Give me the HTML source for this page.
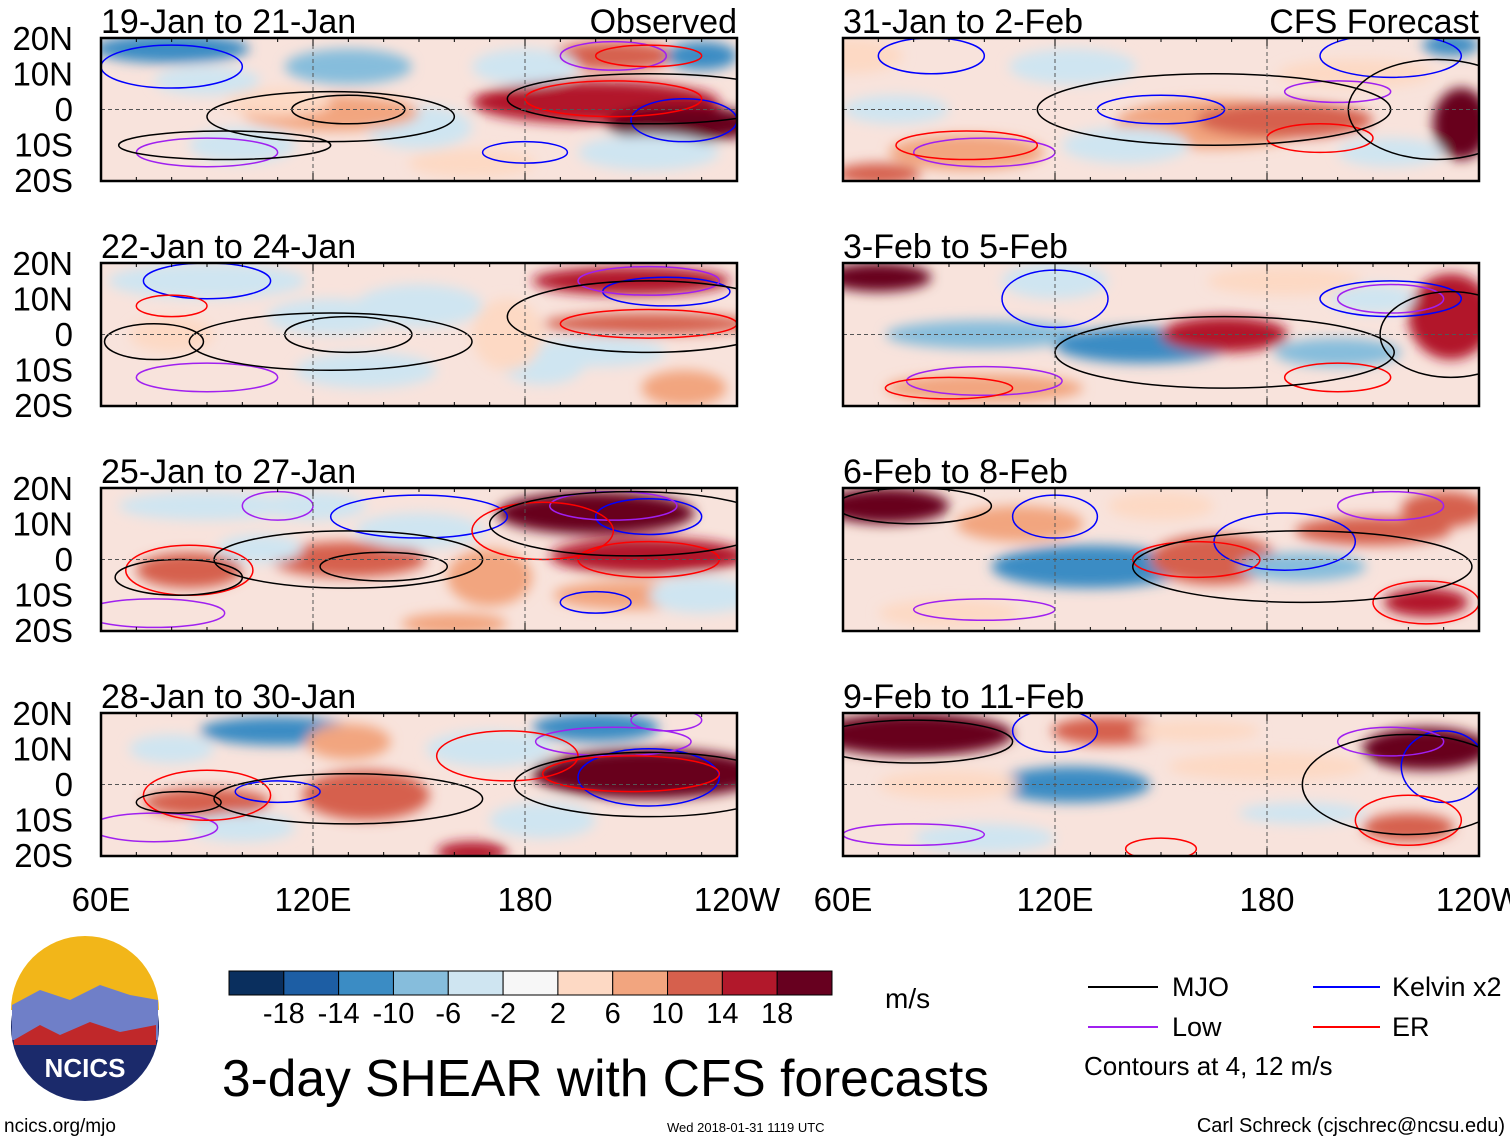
<!DOCTYPE html>
<html><head><meta charset="utf-8">
<style>
body{margin:0;background:#fff;width:1510px;height:1142px;overflow:hidden;font-family:"Liberation Sans",sans-serif;}
svg{position:absolute;left:0;top:0}
</style></head>
<body>
<svg id="chart" width="1510" height="1142" xmlns="http://www.w3.org/2000/svg">
<defs><filter id="bl" x="-50%" y="-50%" width="200%" height="200%"><feGaussianBlur stdDeviation="6"/></filter></defs>
</svg>
<script>
const levelColors=["#0a2f5e","#1d5ea4","#3b8cc4","#86bddc","#cfe5f1","#f7f7f7","#fdd9c4","#f2a57f","#d6604d","#b2182b","#67001f"];
const cbLabels=["-18","-14","-10","-6","-2","2","6","10","14","18"];
const lonTicks=["60E","120E","180","120W"];
const latTicks=["20N","10N","0","10S","20S"];
const panelTitles=["19-Jan to 21-Jan","22-Jan to 24-Jan","25-Jan to 27-Jan","28-Jan to 30-Jan","31-Jan to 2-Feb","3-Feb to 5-Feb","6-Feb to 8-Feb","9-Feb to 11-Feb"];
// blobs: [lon, lat, lonRadius, latRadius, level(-5..5)]
const panelBlobs=[
 [[80,17,22,4,-3],[90,8,15,4,-1],[130,12,18,5,-2],[100,-10,15,5,-1],[150,-5,15,6,-1],[125,-1,25,5,2],[200,2,35,6,4],[225,-4,22,5,5],[205,15,18,4,3],[110,2,15,4,1],[165,-15,18,4,1],[230,15,10,4,-3],[180,12,15,5,-1],[215,-12,20,5,-1]],
 [[90,15,28,5,-1],[125,5,18,5,-1],[150,8,18,6,-1],[210,15,28,4,4],[215,3,30,3,3],[225,-15,12,5,2],[80,0,12,5,1],[185,-8,12,6,-1],[135,-10,20,5,-1],[200,-5,20,4,-1],[175,0,10,10,1]],
 [[200,13,28,6,5],[215,1,28,5,4],[85,-3,15,5,3],[130,0,22,5,3],[105,3,12,4,-1],[150,8,18,5,-1],[210,-10,22,4,2],[170,-5,12,8,2],[90,15,25,4,-1],[120,15,15,4,-1],[160,-18,15,3,2],[230,-10,15,5,-1]],
 [[215,3,33,7,5],[110,15,22,4,-3],[200,16,18,4,-3],[90,-5,18,4,3],[135,-3,18,7,3],[165,-19,10,3,4],[170,10,18,5,-1],[130,12,12,5,2],[80,10,12,4,-1],[100,-12,15,4,-1],[185,-10,15,5,-1]],
 [[62,15,15,5,1],[165,-4,28,7,2],[185,-3,25,5,3],[95,-12,22,5,2],[140,-10,18,5,-1],[125,12,18,5,-1],[235,-4,8,10,5],[205,10,22,4,1],[70,-18,12,3,3],[75,0,15,4,-1],[215,-12,15,4,-1],[232,18,8,3,-3]],
 [[70,16,15,4,5],[100,0,28,4,-2],[145,-3,25,5,-3],[168,0,18,5,4],[200,-5,18,4,-2],[232,5,12,12,4],[185,15,22,4,1],[100,-15,28,4,2],[120,15,15,5,-1],[210,10,12,4,-1]],
 [[72,15,18,5,5],[130,-2,28,6,-3],[165,0,18,7,3],[210,8,22,4,3],[230,14,12,5,3],[225,-12,12,4,4],[190,-2,18,4,-2],[110,10,18,5,2],[90,-15,20,4,1],[150,15,15,4,1]],
 [[80,14,28,6,5],[135,15,16,4,3],[225,10,18,6,5],[125,0,22,5,-3],[180,5,28,4,1],[220,-12,13,4,3],[190,-8,18,3,-1],[160,15,18,3,1],[100,-15,20,4,-1],[90,0,20,4,1]]
];
// MJO contour ellipses: [lon, lat, lonRadius, latRadius]
const mjo=[
 [[125,-2,35,7],[130,0,16,4],[215,3,40,7],[95,-10,30,4]],
 [[125,-2,40,8],[130,0,18,5],[75,-2,14,5],[215,5,40,10]],
 [[130,0,38,8],[140,-2,18,4],[82,-5,18,5],[210,10,40,9]],
 [[130,-4,38,7],[82,-5,12,3],[215,0,38,9]],
 [[165,0,50,10],[228,0,25,14]],
 [[168,-5,48,10],[232,0,20,12]],
 [[190,-2,48,10],[80,15,22,5]],
 [[80,12,28,6],[220,0,30,14]]
];
// Kelvin, Low, ER contour ellipses per panel: [lon, lat, lonRadius, latRadius]
const kelvin=[[[80,12,20,6],[225,-3,15,6],[180,-12,12,3]],[[90,15,18,5],[220,12,18,4]],[[150,12,25,6],[215,12,15,5],[200,-12,10,3]],[[110,-2,12,3],[215,2,20,8]],[[85,15,15,5],[215,15,20,6],[150,0,18,4]],[[120,10,15,8],[215,10,20,5]],[[185,5,20,8],[120,12,12,6]],[[120,15,12,6],[230,5,12,10]]];
const low=[[[90,-12,20,4],[205,15,15,4]],[[90,-12,20,4],[215,15,20,4]],[[75,-15,20,4],[205,15,18,4],[110,15,10,4]],[[75,-12,18,4],[205,12,22,4],[220,18,10,3]],[[100,-12,20,4],[200,5,15,3]],[[100,-13,22,4],[215,10,15,4]],[[100,-14,20,3],[215,15,15,4]],[[80,-14,20,3],[215,12,15,4]]];
const er=[[[205,3,25,5],[215,15,15,3]],[[215,3,25,4],[80,8,10,3]],[[85,-3,18,7],[185,8,20,8],[215,0,20,5]],[[90,-3,18,7],[175,8,20,7],[210,3,25,5]],[[95,-10,20,4],[195,-8,15,4]],[[200,-12,15,4],[90,-15,18,3]],[[160,0,18,5],[225,-12,15,6]],[[220,-10,15,7],[150,-18,10,3]]];
const svg=document.getElementById('chart');
const NS="http://www.w3.org/2000/svg";
function mk(t,a,p){const e=document.createElementNS(NS,t);for(const k in a)e.setAttribute(k,a[k]);(p||svg).appendChild(e);return e;}
const panelW=636,panelH=143;
const colX=[101,843],rowY=[38,263,488,713];
function lx(x0,lon){return x0+(lon-60)/180*panelW;}
function ly(y0,lat){return y0+(20-lat)/40*panelH;}
panelTitles.forEach((title,i)=>{
 const x0=colX[Math.floor(i/4)],y0=rowY[i%4];
 const g=mk('g',{});
 
 
 const cid='c'+i;
 const cp=mk('clipPath',{id:cid},g);mk('rect',{x:x0,y:y0,width:panelW,height:panelH},cp);
 const inner=mk('g',{'clip-path':'url(#'+cid+')'},g);
 mk('rect',{x:x0,y:y0,width:panelW,height:panelH,fill:'#f8e3dc'},inner);
 const bg=mk('g',{filter:'url(#bl)'},inner);
 panelBlobs[i].forEach(b=>{
  const e=mk('ellipse',{cx:lx(x0,b[0]),cy:ly(y0,b[1]),rx:b[2]/180*panelW,ry:b[3]/40*panelH,fill:levelColors[b[4]+5]},bg);
  
  
 });
 [[kelvin,'#0000ff','kelvin-contour'],[low,'#a020f0','low-contour'],[er,'#ff0000','er-contour'],[mjo,'#000','mjo-contour']].forEach(([arr,col,nm])=>{
  arr[i].forEach(m=>{
   const e=mk('ellipse',{cx:lx(x0,m[0]),cy:ly(y0,m[1]),rx:m[2]/180*panelW,ry:m[3]/40*panelH,fill:'none',stroke:col,'stroke-width':1.5},inner);
   
   
  });
 });
 mk('line',{x1:x0,x2:x0+panelW,y1:ly(y0,0),y2:ly(y0,0),stroke:'#555','stroke-dasharray':'4,3'},inner);
 [120,180].forEach(l=>mk('line',{x1:lx(x0,l),x2:lx(x0,l),y1:y0,y2:y0+panelH,stroke:'#555','stroke-dasharray':'4,3'},inner));
 mk('rect',{x:x0,y:y0,width:panelW,height:panelH,fill:'none',stroke:'#000','stroke-width':2.5},g);
 for(let l=60;l<=240;l+=10){const x=lx(x0,l),len=(l%60==0)?8:4;mk('line',{x1:x,x2:x,y1:y0,y2:y0+len,stroke:'#000'},g);mk('line',{x1:x,x2:x,y1:y0+panelH,y2:y0+panelH-len,stroke:'#000'},g);}
 const t=mk('text',{x:x0,y:y0-5,'font-size':34,fill:'#000'},g);t.textContent=title;
 
 
 if(i%4==0){const t2=mk('text',{x:x0+panelW,y:y0-5,'font-size':34,'text-anchor':'end'},g);t2.textContent=i==0?'Observed':'CFS Forecast';
  
  }
 if(i<4){latTicks.forEach((lt,k)=>{const tt=mk('text',{x:73,y:y0+12+k*35.5,'font-size':33,'text-anchor':'end'},g);tt.textContent=lt;
  
  });}
 if(i%4==3){lonTicks.forEach((lt,k)=>{const tt=mk('text',{x:x0+k*panelW/3,y:911,'font-size':33,'text-anchor':'middle'},g);tt.textContent=lt;
  
  });}
});
// colorbar
const cbg=mk('g',{});


const cbW=603/levelColors.length;
levelColors.forEach((c,k)=>mk('rect',{x:229+k*cbW,y:971,width:cbW,height:24,fill:c,stroke:'#000','stroke-width':1},cbg));
cbLabels.forEach((l,k)=>{const t=mk('text',{x:229+(k+1)*cbW,y:1023,'font-size':29,'text-anchor':'middle'},cbg);t.textContent=l;});
</script>
<svg width="1510" height="1142" style="pointer-events:none" xmlns="http://www.w3.org/2000/svg">
 <text x="885" y="1008" font-size="28">m/s</text>
 <g font-size="27">
  <line x1="1088" x2="1158" y1="987" y2="987" stroke="#000" stroke-width="2"/><text x="1172" y="996">MJO</text>
  <line x1="1088" x2="1158" y1="1027" y2="1027" stroke="#a020f0" stroke-width="2"/><text x="1172" y="1036">Low</text>
  <line x1="1313" x2="1380" y1="987" y2="987" stroke="#0000ff" stroke-width="2"/><text x="1392" y="996">Kelvin x2</text>
  <line x1="1313" x2="1380" y1="1027" y2="1027" stroke="#ff0000" stroke-width="2"/><text x="1392" y="1036">ER</text>
  <text x="1084" y="1075" font-size="26">Contours at 4, 12 m/s</text>
 </g>
 <text x="222" y="1096" font-size="51.5">3-day SHEAR with CFS forecasts</text>
 <g>
  <circle cx="85" cy="1027" r="74" fill="#1b2a6b"/>
  <path d="M11,1010 A74,74 0 0 1 159,1010 Z" fill="#f2b619"/>
  <path d="M12,1005 L40,990 L70,1000 L100,985 L130,995 L158,1000 L158,1040 L12,1040 Z" fill="#6f7fc8"/>
  <path d="M14,1040 L40,1025 L60,1035 L90,1022 L120,1032 L156,1025 L156,1045 L14,1045Z" fill="#c0282a"/>
  <text x="85" y="1077" font-size="26" font-weight="bold" fill="#fff" text-anchor="middle">NCICS</text>
 </g>
 <text x="4" y="1132" font-size="19">ncics.org/mjo</text>
 <text x="667" y="1132" font-size="13">Wed 2018-01-31 1119 UTC</text>
 <text x="1505" y="1132" font-size="20" text-anchor="end">Carl Schreck (cjschrec@ncsu.edu)</text>
</svg>
</body></html>
